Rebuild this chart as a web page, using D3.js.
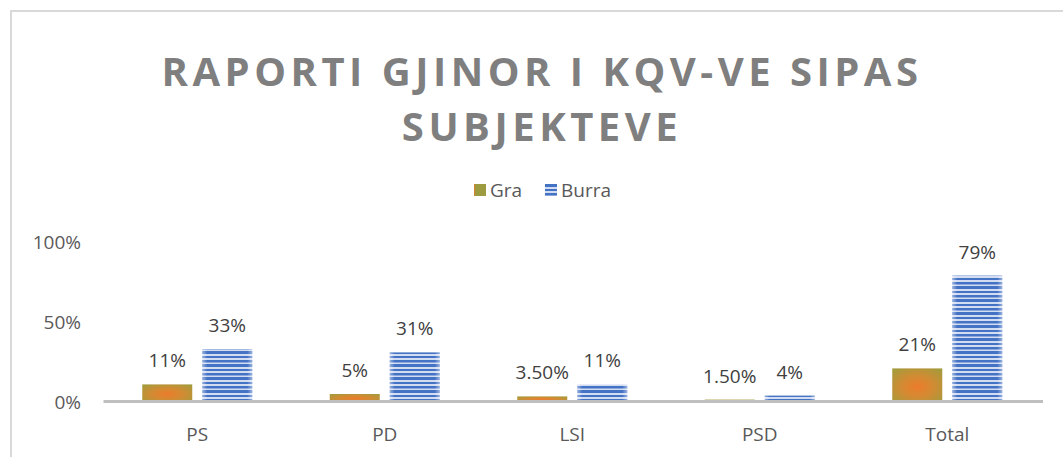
<!DOCTYPE html>
<html>
<head>
<meta charset="utf-8">
<script src="https://cdn.jsdelivr.net/npm/d3@7"></script>
<style>
  body { margin: 0; background: #fff; }
  svg { display: block; }
</style>
</head>
<body>
<div id="chart"></div>
<script>
var categories = ["PS", "PD", "LSI", "PSD", "Total"];
var graValues = [11, 5, 3.5, 1.5, 21];
var burraValues = [33, 31, 11, 4, 79];
var graLabels = ["11%", "5%", "3.50%", "1.50%", "21%"];
var burraLabels = ["33%", "31%", "11%", "4%", "79%"];
var yTicks = [0, 50, 100];
var seriesNames = ["Gra", "Burra"];

var width = 1063, height = 457;
var font = "'Open Sans', 'DejaVu Sans', sans-serif";
var fs = 19;

var svg = d3.select("#chart").append("svg")
    .attr("width", width)
    .attr("height", height);

var defs = svg.append("defs");

// orange/olive blotch fill for Gra
var rg = defs.append("radialGradient").attr("id", "graFill")
    .attr("cx", "50%").attr("cy", "55%").attr("r", "75%");
rg.append("stop").attr("offset", "0%").attr("stop-color", "#ec7b2c");
rg.append("stop").attr("offset", "40%").attr("stop-color", "#d48a32");
rg.append("stop").attr("offset", "100%").attr("stop-color", "#9c9e3e");

var lgFill = defs.append("linearGradient").attr("id", "graLegend")
    .attr("x1", "0%").attr("x2", "100%");
lgFill.append("stop").attr("offset", "0%").attr("stop-color", "#e07c30");
lgFill.append("stop").attr("offset", "15%").attr("stop-color", "#9d9b40");
lgFill.append("stop").attr("offset", "100%").attr("stop-color", "#9d9b40");

// blue striped fill for Burra
var pat = defs.append("pattern").attr("id", "burraStripes")
    .attr("patternUnits", "userSpaceOnUse")
    .attr("width", 8).attr("height", 13);
pat.append("rect").attr("width", 8).attr("height", 13).attr("fill", "#d3ddf2");
[[0, 3], [5, 2], [9, 2.5]].forEach(function(s) {
  pat.append("rect").attr("y", s[0]).attr("width", 8).attr("height", s[1]).attr("fill", "#4472c4");
});
var edge = defs.append("linearGradient").attr("id", "burraEdge")
    .attr("x1", "0%").attr("x2", "100%");
edge.append("stop").attr("offset", "0%").attr("stop-color", "#fff").attr("stop-opacity", 0.45);
edge.append("stop").attr("offset", "10%").attr("stop-color", "#fff").attr("stop-opacity", 0);
edge.append("stop").attr("offset", "90%").attr("stop-color", "#fff").attr("stop-opacity", 0);
edge.append("stop").attr("offset", "100%").attr("stop-color", "#fff").attr("stop-opacity", 0.45);

// chart border (left + top)
svg.append("path")
    .attr("d", "M11,457 L11,11 L1063,11")
    .attr("fill", "none")
    .attr("stroke", "#d9d9d9")
    .attr("stroke-width", 2);

// title
var title = svg.append("text")
    .attr("text-anchor", "middle")
    .attr("font-family", font)
    .attr("font-weight", "bold")
    .attr("font-size", 40)
    .attr("letter-spacing", 4.5)
    .attr("fill", "#7f7f7f");
title.append("tspan").attr("x", 542).attr("y", 86).text("RAPORTI GJINOR I KQV-VE SIPAS");
title.append("tspan").attr("x", 542).attr("y", 141).text("SUBJEKTEVE");

// scales
var x = d3.scaleBand().domain(categories).range([103.5, 1041]);
var y = d3.scaleLinear().domain([0, 100]).range([402, 242]);
var barW = 50, gap = 10;

// y axis labels
svg.append("g").selectAll("text")
    .data(yTicks).join("text")
    .attr("x", 81)
    .attr("y", function(d) { return y(d); })
    .attr("dy", "0.35em")
    .attr("text-anchor", "end")
    .attr("font-family", font)
    .attr("font-size", fs)
    .attr("fill", "#595959")
    .text(function(d) { return d + "%"; });

function barX(i, s) {
  var c = x(categories[i]) + x.bandwidth() / 2;
  return s === 0 ? c - gap / 2 - barW : c + gap / 2;
}

// bars
svg.append("g").selectAll("rect")
    .data(graValues).join("rect")
    .attr("x", function(d, i) { return barX(i, 0); })
    .attr("y", function(d) { return y(d); })
    .attr("width", barW)
    .attr("height", function(d) { return y(0) - y(d); })
    .attr("fill", "url(#graFill)");

var bb = svg.append("g").selectAll("g")
    .data(burraValues).join("g");
bb.append("rect")
    .attr("x", function(d, i) { return barX(i, 1); })
    .attr("y", function(d) { return y(d); })
    .attr("width", barW)
    .attr("height", function(d) { return y(0) - y(d); })
    .attr("fill", "url(#burraStripes)");
bb.append("rect")
    .attr("x", function(d, i) { return barX(i, 1); })
    .attr("y", function(d) { return y(d); })
    .attr("width", barW)
    .attr("height", function(d) { return y(0) - y(d); })
    .attr("fill", "url(#burraEdge)");

// baseline
svg.append("line")
    .attr("x1", 103.5).attr("x2", 1043)
    .attr("y1", y(0) - 0.5).attr("y2", y(0) - 0.5)
    .attr("stroke", "#bfbfbf")
    .attr("stroke-width", 3);

// data labels
function addLabels(vals, labels, s) {
  svg.append("g").selectAll("text")
      .data(vals).join("text")
      .attr("x", function(d, i) { return barX(i, s) + barW / 2; })
      .attr("y", function(d) { return y(d) - 17; })
      .attr("text-anchor", "middle")
      .attr("font-family", font)
      .attr("font-size", fs)
      .attr("fill", "#404040")
      .text(function(d, i) { return labels[i]; });
}
addLabels(graValues, graLabels, 0);
addLabels(burraValues, burraLabels, 1);

// category labels
svg.append("g").selectAll("text")
    .data(categories).join("text")
    .attr("x", function(d) { return x(d) + x.bandwidth() / 2; })
    .attr("y", 441)
    .attr("text-anchor", "middle")
    .attr("font-family", font)
    .attr("font-size", fs)
    .attr("fill", "#595959")
    .text(function(d) { return d; });

// legend
var legendX = [474, 545];
var lg = svg.append("g").selectAll("g")
    .data(seriesNames).join("g")
    .attr("transform", function(d, i) { return "translate(" + legendX[i] + ",184)"; });
lg.append("rect")
    .attr("width", 12).attr("height", 12)
    .attr("fill", function(d, i) { return i === 0 ? "url(#graLegend)" : "url(#burraStripes)"; });
lg.append("text")
    .attr("x", 16).attr("y", 6)
    .attr("dy", "0.35em")
    .attr("font-family", font)
    .attr("font-size", fs)
    .attr("fill", "#595959")
    .text(function(d) { return d; });
</script>
</body>
</html>
